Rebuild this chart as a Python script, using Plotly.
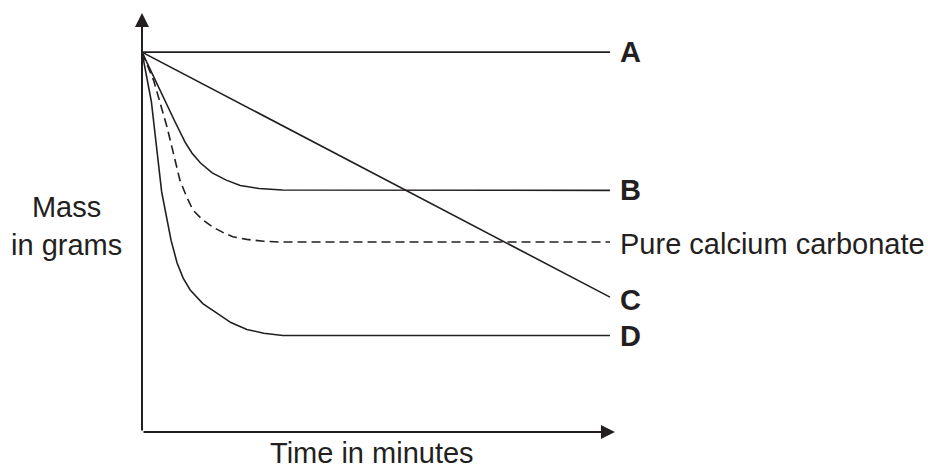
import plotly.graph_objects as go

# ---- data (arbitrary units: time 0-10, mass 0-10) ----
a_x = [0, 10]
a_y = [10, 10]

b_x = [0, 0.36, 0.70, 0.92, 1.07, 1.25, 1.50, 1.80, 2.10, 2.50, 3.00, 10]
b_y = [10, 9.05, 8.18, 7.63, 7.34, 7.08, 6.82, 6.63, 6.49, 6.41, 6.37, 6.36]

pure_x = [0, 0.25, 0.53, 0.81, 0.95, 1.09, 1.30, 1.52, 1.75, 1.94, 2.24, 2.60, 2.95, 10]
pure_y = [10, 9.25, 8.05, 6.63, 6.20, 5.84, 5.58, 5.39, 5.24, 5.14, 5.07, 5.02, 5.00, 5.00]

c_x = [0, 10]
c_y = [10, 3.55]

d_x = [0, 0.20, 0.42, 0.53, 0.62, 0.75, 0.88, 1.03, 1.30, 1.60, 1.90, 2.24, 2.60, 3.01, 10]
d_y = [10, 8.70, 6.32, 5.58, 5.05, 4.45, 4.05, 3.74, 3.38, 3.13, 2.88, 2.70, 2.60, 2.54, 2.54]

series_names = ["A", "B", "Pure calcium carbonate", "C", "D"]
x_title = "Time in minutes"
y_title = "Mass<br>in grams"

X_MAX = 10.107
Y_MAX = 11.03

INK = "#231f20"
FONT = "Liberation Sans, Arial, sans-serif"
FS = 29

fig = go.Figure()
series = [(a_x, a_y, "solid"), (b_x, b_y, "solid"), (pure_x, pure_y, "9px,5px"),
          (c_x, c_y, "solid"), (d_x, d_y, "solid")]
for (xs, ys, dash), name in zip(series, series_names):
    fig.add_trace(go.Scatter(x=xs, y=ys, mode="lines", name=name,
                             line=dict(color=INK, width=1.6, dash=dash),
                             hoverinfo="skip", showlegend=False))

annotations = []
# end labels
for (xs, ys, dash), name in zip(series, series_names):
    bold = name != "Pure calcium carbonate"
    annotations.append(dict(
        x=xs[-1], y=ys[-1], xref="x", yref="y", xanchor="left", yanchor="middle",
        xshift=8, yshift=(-2 if not bold else (-3 if name == "C" else 0)),
        text=(f"<b>{name}</b>" if bold else name), showarrow=False,
        font=dict(family=FONT, size=FS, color=INK)))

# axes with arrows
annotations.append(dict(x=X_MAX - 0.001, y=0, ax=0, ay=0, xref="x", yref="y",
                        axref="x", ayref="y", text="", showarrow=True, arrowhead=2,
                        arrowsize=1.4, arrowwidth=2, arrowcolor=INK, standoff=0))
annotations.append(dict(x=0, y=Y_MAX - 0.001, ax=0, ay=0, xref="x", yref="y",
                        axref="x", ayref="y", text="", showarrow=True, arrowhead=2,
                        arrowsize=1.4, arrowwidth=2, arrowcolor=INK, standoff=0))

# axis titles
annotations.append(dict(x=-0.1586, y=0.492, xref="paper", yref="paper",
                        xanchor="center", yanchor="middle", text=y_title, align="center",
                        showarrow=False, font=dict(family=FONT, size=FS, color=INK)))
annotations.append(dict(x=0.486, y=-0.05, xref="paper", yref="paper",
                        xanchor="center", yanchor="middle", text=x_title,
                        showarrow=False, font=dict(family=FONT, size=FS, color=INK)))

fig.update_layout(
    width=928, height=468,
    margin=dict(l=142, r=313, t=13, b=36),
    paper_bgcolor="white", plot_bgcolor="white",
    xaxis=dict(range=[0, X_MAX], showgrid=False, zeroline=False, showticklabels=False,
               showline=False, ticks=""),
    yaxis=dict(range=[0, Y_MAX], showgrid=False, zeroline=False, showticklabels=False,
               showline=False, ticks=""),
    annotations=annotations,
    showlegend=False,
)

fig.write_html("out.html", config={"displayModeBar": False},
               post_script="document.body.style.margin='0';document.body.style.overflow='hidden';")
